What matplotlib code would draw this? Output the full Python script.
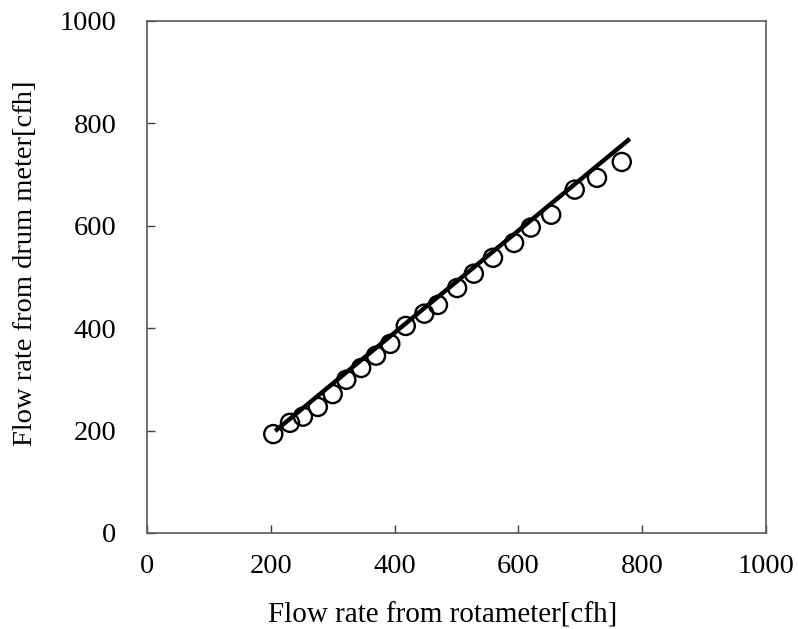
import matplotlib
matplotlib.use("Agg")
import matplotlib.pyplot as plt
import numpy as np

rotameter = [204, 231, 252, 276, 300, 322, 346, 370, 393, 418, 448, 470,
             501, 528, 559, 593, 620, 653, 691, 727, 767]
drum_meter = [193, 215, 227, 246, 271, 299, 322, 346, 369, 404, 428, 445,
              478, 506, 537, 566, 596, 621, 670, 693, 724]
fit_x = [207, 780]
fit_slope = 0.995
fit_intercept = -7

xticks = [0, 200, 400, 600, 800, 1000]
yticks = [0, 200, 400, 600, 800, 1000]

plt.rcParams['font.family'] = ['Liberation Serif', 'DejaVu Serif']

fig = plt.figure(figsize=(7.98, 6.29), dpi=100)
ax = fig.add_axes([147/798, 1 - 533/629, (766-147)/798, (533-20.5)/629])

ax.scatter(rotameter, drum_meter, s=170, facecolors='none', edgecolors='black',
           linewidths=1.7, zorder=2)
fx = np.array(fit_x, dtype=float)
ax.plot(fx, fit_slope*fx + fit_intercept, color='black', lw=3.2, zorder=3,
        solid_capstyle='butt')

ax.set_xlim(0, 1000)
ax.set_ylim(0, 1000)
ax.set_xticks(xticks)
ax.set_yticks(yticks)
ax.tick_params(direction='in', length=6, width=1, labelsize=20.5, colors='#404040',
               labelcolor='black')
ax.tick_params(axis='x', pad=15)
ax.tick_params(axis='y', pad=22)
for s in ax.spines.values():
    s.set_color('#595959')
    s.set_linewidth(1.2)

ax.set_xlabel('Flow rate from rotameter[cfh]', fontsize=21)
ax.set_ylabel('Flow rate from drum meter[cfh]', fontsize=20.5)
ax.xaxis.set_label_coords(0.477, -0.135)
ax.yaxis.set_label_coords(-0.176, 0.527)

fig.savefig('out.png', dpi=100)
